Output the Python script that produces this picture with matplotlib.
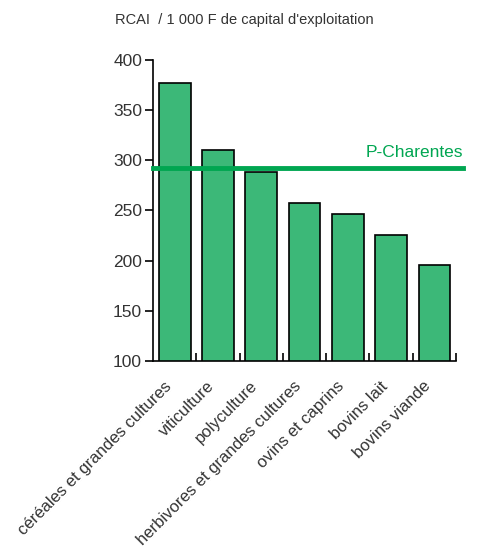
import matplotlib.pyplot as plt
import matplotlib.transforms as mtransforms
import numpy as np

categories = ['céréales et grandes cultures', 'viticulture', 'polyculture',
              'herbivores et grandes cultures', 'ovins et caprins',
              'bovins lait', 'bovins viande']
values = [377, 310, 288, 257, 246, 226, 196]
region_label = 'P-Charentes'
region_value = 292
yticks = [100, 150, 200, 250, 300, 350, 400]

plt.rcParams['font.family'] = ['Liberation Sans', 'DejaVu Sans']

fig = plt.figure(figsize=(4.8, 5.46), dpi=100)
ax = fig.add_axes([0.319, 0.339, 0.631, 0.551])

x = np.arange(len(categories))
ax.bar(x, values, width=0.73, bottom=0, color='#3cb878',
       edgecolor='black', linewidth=1.2, zorder=2)

ax.set_xlim(-0.5, len(categories) - 0.5)
ax.set_ylim(100, 400)

# regional average line, running a bit past the right edge
ax.axhline(region_value, xmin=0, xmax=1.023, color='#00a651',
           linewidth=3.5, clip_on=False, zorder=3)
ax.text(1.023, region_value + 8, region_label, transform=ax.get_yaxis_transform(),
        ha='right', va='bottom', color='#00a651', fontsize=12.5)

ax.spines['top'].set_visible(False)
ax.spines['right'].set_visible(False)
ax.spines['left'].set_linewidth(1.2)
ax.spines['bottom'].set_linewidth(1.2)

ax.set_yticks(yticks)
ax.tick_params(axis='y', direction='out', length=6, width=1.2, pad=2,
               labelsize=12.5)
for lab in ax.get_yticklabels():
    lab.set_color('#333333')

# category labels at bar centers, ticks at bar boundaries
ax.set_xticks(x)
ax.set_xticklabels(categories, rotation=45, ha='right', va='center',
                   rotation_mode='anchor', fontsize=12, color='#333333')
ax.tick_params(axis='x', which='major', length=0, pad=15)
shift = mtransforms.ScaledTranslation(-6 / 100, -2 / 100, fig.dpi_scale_trans)
for lab in ax.get_xticklabels():
    lab.set_transform(lab.get_transform() + shift)
ax.set_xticks(np.arange(len(categories)) + 0.5, minor=True)
ax.tick_params(axis='x', which='minor', direction='in', length=6, width=1.2)

fig.text(115 / 480, 1 - 20 / 546, "RCAI  / 1 000 F de capital d'exploitation",
         ha='left', va='center', fontsize=10.5, color='#333333')

fig.savefig('out.png', dpi=100)
